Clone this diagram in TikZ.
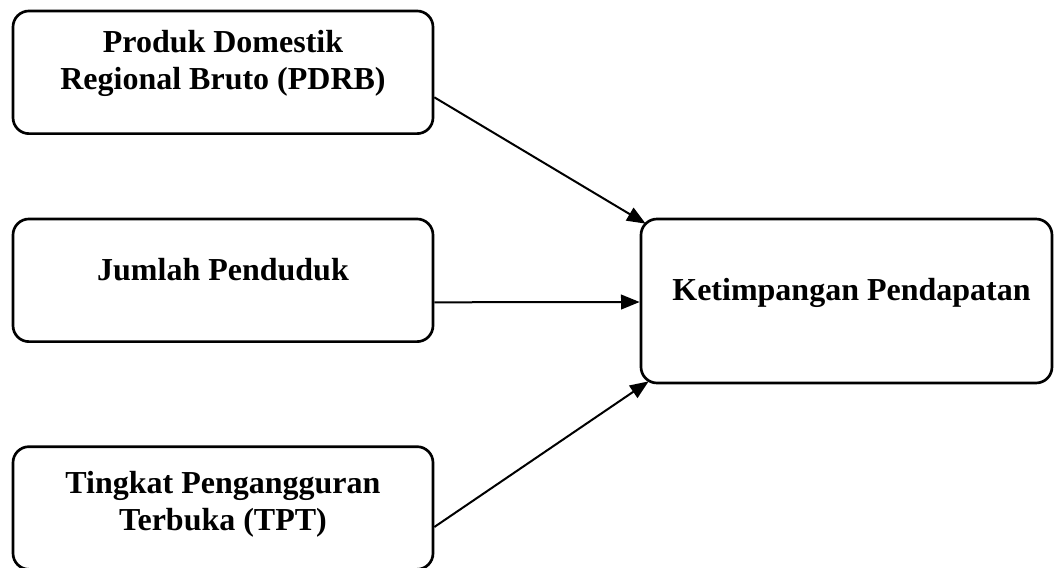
\documentclass[tikz,border=0pt]{standalone}
\usepackage{fontspec}
\setmainfont{Liberation Serif}
\usetikzlibrary{arrows.meta}
\tikzset{
    varbox/.style={draw, line width=2pt, rounded corners=12pt, minimum width=315pt, minimum height=92pt},
    vartext/.style={align=center, font=\fontsize{24}{27.75}\selectfont\bfseries},
    link/.style={line width=1.5pt, -{Triangle[length=14pt,width=11pt]}}
}

\begin{document}
\begin{tikzpicture}[x=0.75pt, y=-0.75pt]
    \useasboundingbox (0,0) rectangle (1054,568);
    % variables
    \node[varbox]                                   (pdrb) at (223,72.3)  {};
    \node[varbox]                                   (jp)   at (223,280.3) {};
    \node[varbox]                                   (tpt)  at (223,508)   {};
    \node[varbox, minimum width=308.25pt, minimum height=123pt] (kp) at (846.5,301) {};
    \node[vartext] (pdrbtext) at (223,63.5)  {Produk Domestik\\Regional Bruto (PDRB)};
    \node[vartext] (jptext)   at (223,269.5) {Jumlah Penduduk};
    \node[vartext] (tpttext)  at (223,504)   {Tingkat Pengangguran\\Terbuka (TPT)};
    \node[vartext] (kptext)   at (851.5,292.5) {Ketimpangan Pendapatan};
    % arrows
    \draw[link] ([shift={(0,25)}]pdrb.east) -- ([shift={(6,6)}]kp.north west);
    \draw[link] ([shift={(0,22)}]jp.east)   -- ([shift={(0,1)}]kp.west);
    \draw[link] ([shift={(0,19)}]tpt.east)  -- ([shift={(9,-3)}]kp.south west);
\end{tikzpicture}
\end{document}
